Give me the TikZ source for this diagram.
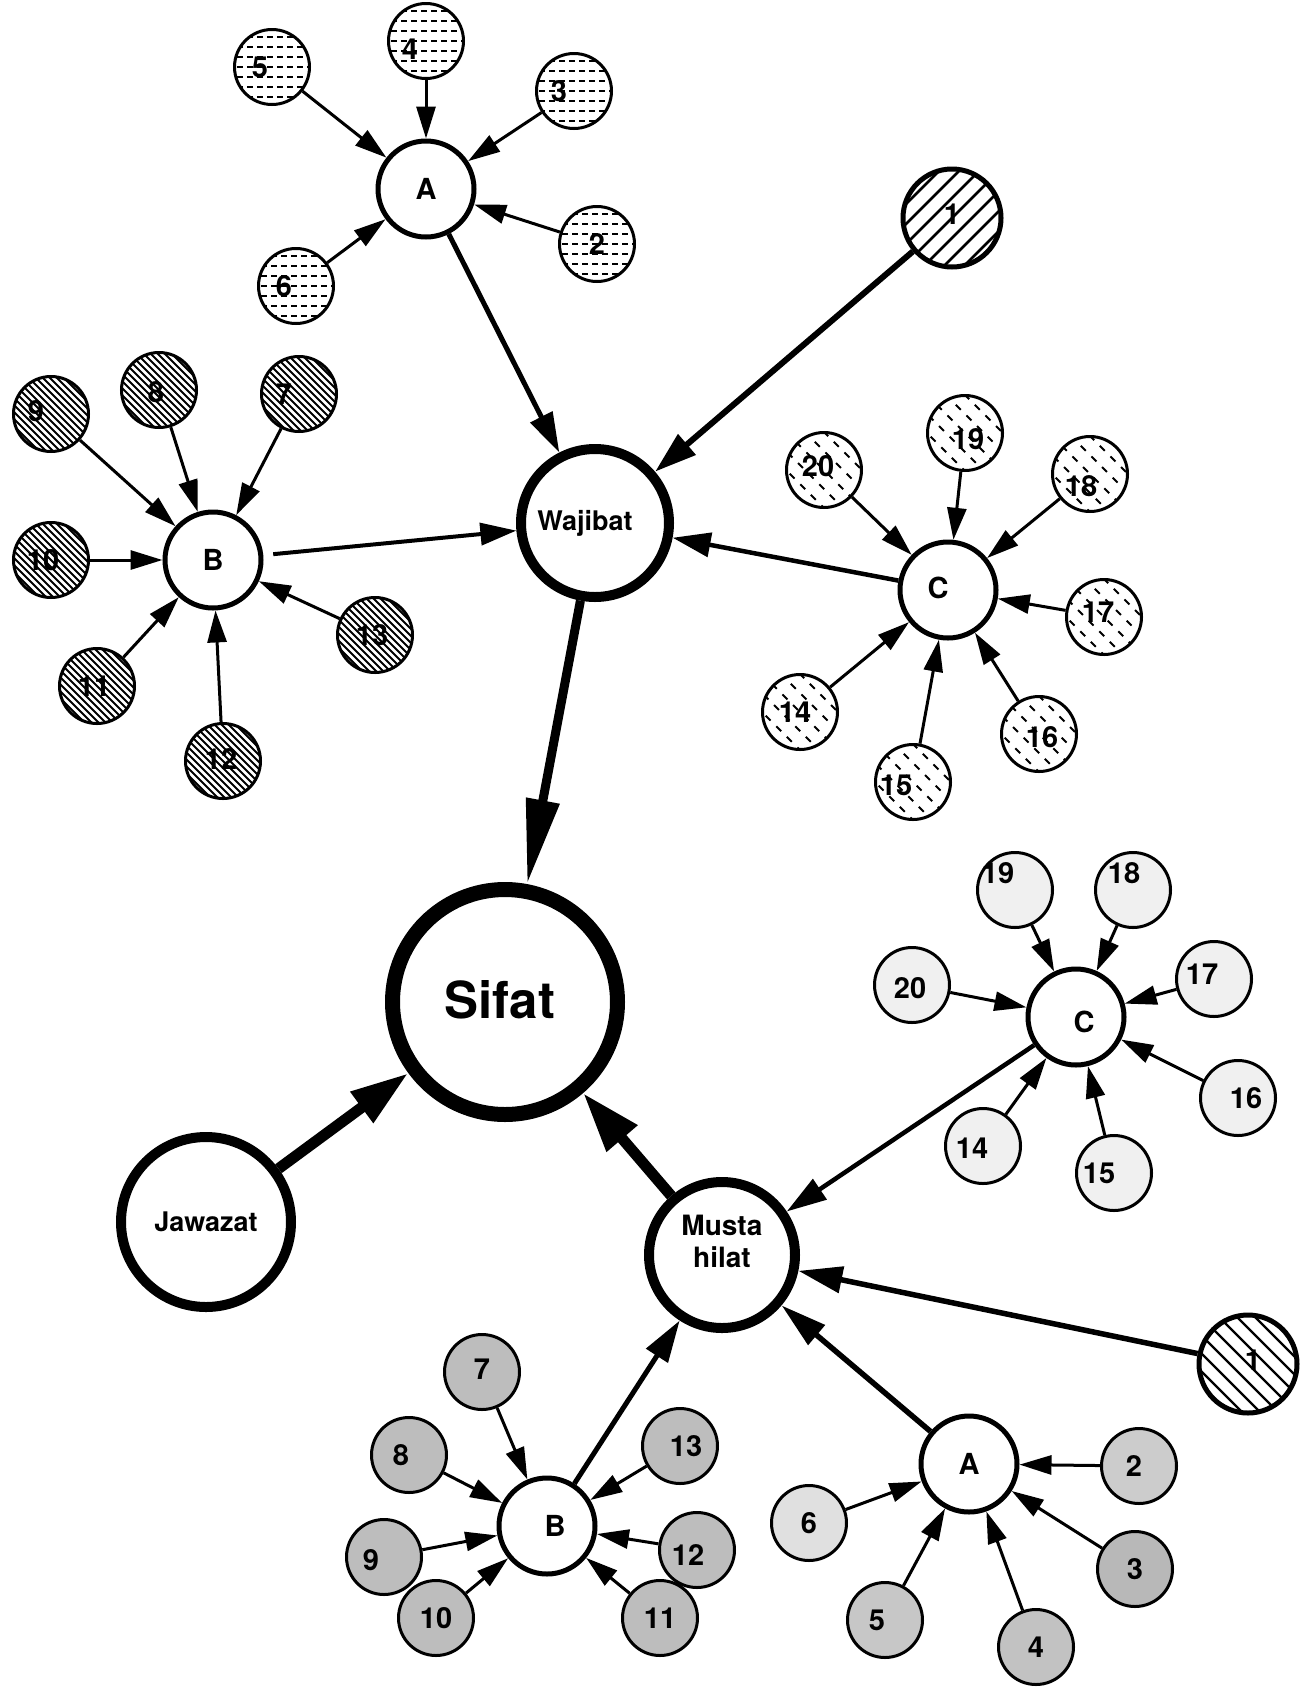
\documentclass[tikz,border=0pt]{standalone}
\usepackage{fontspec}
\setmainfont{TeX Gyre Heros}
\usetikzlibrary{arrows.meta,calc}
\tikzset{
  leaf/.style={circle, draw=black, line width=3pt, minimum size=75pt, inner sep=0pt, fill=white},
  hub/.style={circle, draw=black, line width=5pt, minimum size=96pt, inner sep=0pt, fill=white},
  onec/.style={circle, draw=black, line width=5pt, minimum size=98pt, inner sep=0pt, fill=white},
  wbig/.style={circle, draw=black, line width=10pt, minimum size=148pt, inner sep=0pt, fill=white},
  sbig/.style={circle, draw=black, line width=15pt, minimum size=225pt, inner sep=0pt, fill=white},
  jbig/.style={circle, draw=black, line width=10pt, minimum size=170pt, inner sep=0pt, fill=white},
  mbig/.style={circle, draw=black, line width=10pt, minimum size=146pt, inner sep=0pt, fill=white},
  numtxt/.style={font=\fontsize{29pt}{29pt}\selectfont\bfseries, inner sep=0pt},
  wtxt/.style={font=\fontsize{27pt}{30pt}\selectfont\bfseries, inner sep=0pt},
  stxt/.style={font=\fontsize{51pt}{55pt}\selectfont\bfseries, inner sep=0pt},
  mtxt/.style={font=\fontsize{28pt}{32pt}\selectfont\bfseries, inner sep=0pt, align=center},
  pA/.style={path picture={\foreach \k in {-5,...,5}
      \draw[line width=1.4pt, dash pattern=on 6pt off 4pt]
        ([shift={(-45pt,\k*10pt)}]path picture bounding box.center) -- ++(90pt,0pt);}},
  pB/.style={path picture={\foreach \k in {-10,...,10}
      \draw[line width=1.8pt]
        ([shift={(\k*7pt-60pt,60pt)}]path picture bounding box.center) -- ++(120pt,-120pt);}},
  pC/.style={path picture={\foreach \k in {-4,...,4}
      \draw[line width=1.8pt, dash pattern=on 7pt off 8pt]
        ([shift={(\k*19pt-60pt,60pt)}]path picture bounding box.center) -- ++(120pt,-120pt);}},
  pOneA/.style={path picture={\foreach \k in {-4,...,4}
      \draw[line width=2.5pt]
        ([shift={(\k*20pt-70pt,-70pt)}]path picture bounding box.center) -- ++(140pt,140pt);}},
  pOneB/.style={path picture={\foreach \k in {-5,...,5}
      \draw[line width=2.2pt]
        ([shift={(\k*18pt-70pt,70pt)}]path picture bounding box.center) -- ++(140pt,-140pt);}},
  la/.style={line width=3pt, -{Triangle[length=32pt,width=19pt]}},
}
\newcommand\lf[8]{%
  \node[#1] (#2) at (#3,#4) {};
  \node[#5] (#2t) at ($(#2.center)+(#7,#8)$) {#6};}
\begin{document}
\begin{tikzpicture}[x=1pt,y=-1pt]
\fill[white] (0,0) rectangle (1314,1687);
\useasboundingbox (0,0) rectangle (1314,1687);

% ---------- top A cluster
\lf{leaf,pA}{ta5}{272}{67}{numtxt}{5}{-12}{0}
\lf{leaf,pA}{ta4}{426}{41}{numtxt}{4}{-16}{8}
\lf{leaf,pA}{ta3}{574}{91}{numtxt}{3}{-15}{0}
\lf{leaf,pA}{ta2}{597}{244}{numtxt}{2}{0}{0}
\lf{leaf,pA}{ta6}{296}{286}{numtxt}{6}{-12}{0}
\lf{hub}{tA}{426}{189}{numtxt}{A}{0}{0}

% ---------- top B cluster
\lf{leaf,pB}{tb9}{51}{414}{numtxt}{9}{-15}{-3}
\lf{leaf,pB}{tb8}{159}{390}{numtxt}{8}{-3}{2}
\lf{leaf,pB}{tb7}{299}{394}{numtxt}{7}{-15}{0}
\lf{leaf,pB}{tb10}{51}{560}{numtxt}{10}{-8}{0}
\lf{leaf,pB}{tb11}{97}{686}{numtxt}{11}{-3}{0}
\lf{leaf,pB}{tb12}{223}{761}{numtxt}{12}{-2}{-2}
\lf{leaf,pB}{tb13}{375}{635}{numtxt}{13}{-3}{0}
\lf{hub}{tB}{213}{560}{numtxt}{B}{0}{0}

% ---------- Wajibat and top 1
\lf{wbig}{W}{595}{523}{wtxt}{Wajibat}{-10}{0}
\lf{onec,pOneA}{t1}{952}{218}{numtxt}{1}{0}{-4}

% ---------- top C cluster
\lf{leaf,pC}{tc20}{824}{470}{numtxt}{20}{-6}{-4}
\lf{leaf,pC}{tc19}{965}{433}{numtxt}{19}{3}{6}
\lf{leaf,pC}{tc18}{1090}{474}{numtxt}{18}{-9}{12}
\lf{leaf,pC}{tc17}{1104}{617}{numtxt}{17}{-6}{-5}
\lf{leaf,pC}{tc16}{1039}{734}{numtxt}{16}{3}{3}
\lf{leaf,pC}{tc15}{913}{782}{numtxt}{15}{-17}{3}
\lf{leaf,pC}{tc14}{800}{712}{numtxt}{14}{-5}{0}
\lf{hub}{tC}{948}{590}{numtxt}{C}{-10}{-2}

% ---------- Sifat, Jawazat, Mustahilat
\lf{sbig}{S}{505}{1002}{stxt}{Sifat}{-5}{-2}
\lf{jbig}{J}{206}{1222}{wtxt}{Jawazat}{0}{0}
\lf{mbig}{M}{722}{1255}{mtxt}{Musta\\hilat}{0}{-14}

% ---------- bottom C cluster
\lf{leaf,fill=black!6}{bc19}{1015}{890}{numtxt}{19}{-17}{-17}
\lf{leaf,fill=black!6}{bc18}{1133}{890}{numtxt}{18}{-9}{-17}
\lf{leaf,fill=black!6}{bc17}{1214}{979}{numtxt}{17}{-12}{-5}
\lf{leaf,fill=black!6}{bc20}{912}{985}{numtxt}{20}{-2}{3}
\lf{leaf,fill=black!6}{bc16}{1238}{1098}{numtxt}{16}{8}{0}
\lf{leaf,fill=black!6}{bc15}{1114}{1173}{numtxt}{15}{-15}{0}
\lf{leaf,fill=black!6}{bc14}{983}{1146}{numtxt}{14}{-11}{2}
\lf{hub}{bC}{1076}{1017}{numtxt}{C}{8}{5}

% ---------- bottom 1
\lf{onec,pOneB}{b1}{1248}{1364}{numtxt}{1}{5}{-4}

% ---------- bottom B cluster
\lf{leaf,fill=black!26}{bb7}{482}{1372}{numtxt}{7}{0}{-3}
\lf{leaf,fill=black!26}{bb8}{409}{1455}{numtxt}{8}{-8}{0}
\lf{leaf,fill=black!26}{bb9}{384}{1557}{numtxt}{9}{-13}{3}
\lf{leaf,fill=black!26}{bb10}{436}{1618}{numtxt}{10}{0}{0}
\lf{leaf,fill=black!26}{bb11}{660}{1618}{numtxt}{11}{0}{0}
\lf{leaf,fill=black!26}{bb12}{697}{1550}{numtxt}{12}{-9}{5}
\lf{leaf,fill=black!26}{bb13}{680}{1446}{numtxt}{13}{6}{0}
\lf{hub}{bB}{547}{1526}{numtxt}{B}{8}{0}

% ---------- bottom A cluster
\lf{leaf,fill=black!20}{ba2}{1139}{1466}{numtxt}{2}{-5}{0}
\lf{leaf,fill=black!12}{ba6}{809}{1523}{numtxt}{6}{0}{0}
\lf{leaf,fill=black!22}{ba5}{885}{1620}{numtxt}{5}{-8}{0}
\lf{leaf,fill=black!24}{ba4}{1036}{1647}{numtxt}{4}{0}{0}
\lf{leaf,fill=black!28}{ba3}{1135}{1569}{numtxt}{3}{0}{0}
\lf{hub}{bA}{969}{1464}{numtxt}{A}{0}{0}

% ---------- leaf arrows
\foreach \n in {ta5,ta4,ta3,ta2,ta6} \draw[la] (\n) -- (tA);
\foreach \n in {tb9,tb8,tb7,tb10,tb11,tb12,tb13} \draw[la] (\n) -- (tB);
\foreach \n in {tc20,tc19,tc18,tc17,tc16,tc15,tc14} \draw[la] (\n) -- (tC);
\foreach \n in {bc19,bc18,bc17,bc20,bc16,bc15,bc14} \draw[la] (\n) -- (bC);
\foreach \n in {bb7,bb8,bb9,bb10,bb11,bb12,bb13} \draw[la] (\n) -- (bB);
\foreach \n in {ba2,ba6,ba5,ba4,ba3} \draw[la] (\n) -- (bA);

% ---------- main arrows
\draw[line width=5pt, -{Triangle[length=40pt,width=24pt]}] (tA) -- (W);
\draw[line width=4pt, shorten <=10pt, -{Triangle[length=36pt,width=22pt]}] (tB) -- (W);
\draw[line width=6pt, -{Triangle[length=42pt,width=26pt]}] (t1) -- (W);
\draw[line width=4.5pt, -{Triangle[length=38pt,width=24pt]}] (tC) -- (W);
\draw[line width=9pt, -{Triangle[length=85pt,width=32pt]}] (W) -- (S);
\draw[line width=11pt, -{Triangle[length=58pt,width=36pt]}] (J) -- (S);
\draw[line width=11pt, -{Triangle[length=60pt,width=38pt]}] (M) -- (S);
\draw[line width=4.5pt, -{Triangle[length=40pt,width=24pt]}] (bC) -- (M);
\draw[line width=5.5pt, -{Triangle[length=44pt,width=26pt]}] (b1) -- (M);
\draw[line width=5pt, -{Triangle[length=42pt,width=25pt]}] (bB) -- (M);
\draw[line width=5.5pt, -{Triangle[length=46pt,width=25pt]}] (bA) -- (M);
\end{tikzpicture}
\end{document}
